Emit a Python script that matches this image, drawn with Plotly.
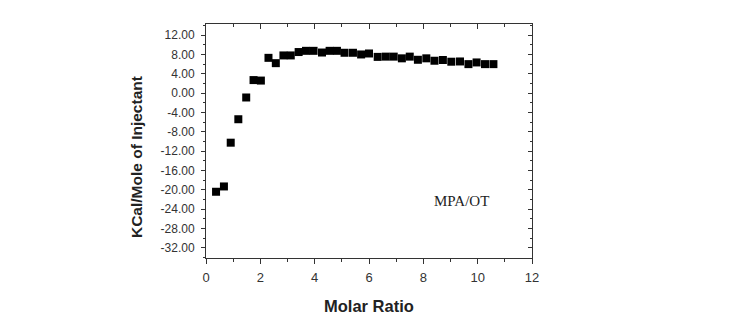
import plotly.graph_objects as go

molar_ratio = [0.37, 0.66, 0.91, 1.19, 1.48, 1.75, 2.02, 2.30, 2.57, 2.85, 3.12, 3.41, 3.68,
               3.96, 4.27, 4.55, 4.82, 5.10, 5.41, 5.71, 6.00, 6.32, 6.62, 6.91, 7.21, 7.50,
               7.80, 8.11, 8.41, 8.72, 9.03, 9.35, 9.66, 9.96, 10.27, 10.58]
kcal = [-20.4, -19.3, -10.25, -5.4, -0.9, 2.7, 2.6, 7.3, 6.2, 7.8, 7.8, 8.5, 8.75,
        8.75, 8.4, 8.75, 8.75, 8.35, 8.35, 8.0, 8.2, 7.5, 7.55, 7.55, 7.2, 7.55,
        6.9, 7.2, 6.7, 6.85, 6.5, 6.55, 6.0, 6.35, 6.0, 6.0]
y_ticks = [12, 8, 4, 0, -4, -8, -12, -16, -20, -24, -28, -32]
x_ticks = [0, 2, 4, 6, 8, 10, 12]

fig = go.Figure()
fig.add_trace(go.Scatter(x=molar_ratio, y=kcal, mode="markers",
                         marker=dict(symbol="square", size=8, color="black",
                                     line=dict(width=0))))
# dummy trace for top/right mirrored inward ticks
fig.add_trace(go.Scatter(x=[None], y=[None], xaxis="x2", yaxis="y2", showlegend=False))

tickfont = dict(family="Liberation Sans, Arial", size=12, color="#333")
xr = [0, 12]
yr = [-34.1, 14.3]
fig.update_layout(
    width=725, height=324,
    margin=dict(l=198, r=201, t=16, b=74),
    paper_bgcolor="white", plot_bgcolor="white",
    showlegend=False,
    xaxis=dict(range=xr, tickvals=x_ticks, ticktext=[str(v) for v in x_ticks],
               ticks="outside", ticklen=5, tickwidth=1, tickcolor="#333",
               minor=dict(dtick=1, tick0=0, ticks="outside", ticklen=3, tickcolor="#333"),
               showgrid=False, zeroline=False, showline=True, linecolor="#333", linewidth=1,
               ticklabelstandoff=2,
               tickfont=dict(family="Liberation Sans, Arial", size=13, color="#333")),
    yaxis=dict(range=yr, tickvals=y_ticks, ticktext=["%.2f" % v for v in y_ticks],
               ticks="outside", ticklen=4, tickwidth=1, tickcolor="#333",
               minor=dict(dtick=2, tick0=0, ticks="outside", ticklen=2, tickcolor="#333"),
               showgrid=False, zeroline=False, showline=True, linecolor="#333", linewidth=1,
               ticklabelstandoff=4,
               tickfont=tickfont),
    xaxis2=dict(range=xr, overlaying="x", side="top", tickvals=x_ticks, showticklabels=False,
                ticks="inside", ticklen=5, tickcolor="#333",
                minor=dict(dtick=1, tick0=0, ticks="inside", ticklen=3, tickcolor="#333"),
                showgrid=False, zeroline=False, showline=True, linecolor="#333"),
    yaxis2=dict(range=yr, overlaying="y", side="right", tickvals=y_ticks, showticklabels=False,
                ticks="inside", ticklen=4, tickcolor="#333",
                minor=dict(dtick=2, tick0=0, ticks="inside", ticklen=2, tickcolor="#333"),
                showgrid=False, zeroline=False, showline=True, linecolor="#333"),
    annotations=[
        dict(x=9.4, y=-22.4, xref="x", yref="y", text="MPA/OT", showarrow=False,
             font=dict(family="Liberation Serif, Times New Roman", size=15, color="#222")),
        dict(x=0.5, y=-0.204, xref="paper", yref="paper", text="<b>Molar Ratio</b>",
             showarrow=False, xanchor="center", yanchor="middle",
             font=dict(family="Liberation Sans, Arial", size=16.5, color="#222")),
        dict(x=-0.2147, y=0.4316, xref="paper", yref="paper", text="<b>KCal/Mole of Injectant</b>",
             showarrow=False, textangle=-90, xanchor="center", yanchor="middle",
             font=dict(family="Liberation Sans, Arial", size=15.5, color="#222")),
    ],
)
fig.write_html("out.html")
